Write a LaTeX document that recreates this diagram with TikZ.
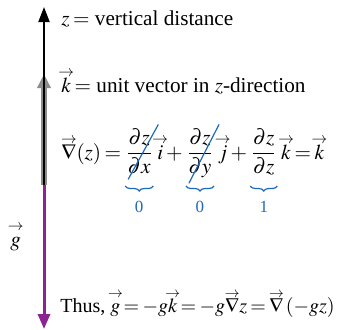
\documentclass[tikz,border=0pt]{standalone}
\usepackage{amsmath,amssymb}
\usepackage{mathptmx}
\usepackage{fontspec}
\setmainfont{Liberation Serif}
\usepackage{xcolor}
\usepackage{tikz}
\usetikzlibrary{positioning, arrows.meta, decorations.pathreplacing}

\definecolor{eqblue}{RGB}{30,105,185}
\definecolor{gvec}{RGB}{140,35,145}
\newcommand{\vv}[1]{\mathord{\setbox0=\hbox{$#1$}%
  \hbox to \wd0{\hss\raisebox{0.74em}{$\scriptstyle\rightarrow$}\hss}\kern-\wd0\box0}}
\newcommand{\eqspacing}{\thickmuskip=3mu plus 2mu\relax\medmuskip=2.5mu\relax}

\begin{document}
\begin{tikzpicture}[
    x=0.5pt, y=-0.5pt,
    label/.style={anchor=base west, inner sep=0pt,
      font=\fontsize{10.6}{13}\selectfont\eqspacing},
    axis/.style={-{Triangle[length=7.5pt, width=5.5pt]}, line width=1pt, black},
    unitvec/.style={-{Triangle[length=7pt, width=6.5pt]}, line width=3pt, black!45},
    gravity/.style={-{Triangle[length=7.5pt, width=6pt]}, line width=1.5pt, gvec},
    strike/.style={eqblue, line width=0.6pt},
    underbr/.style={eqblue, line width=0.6pt, decorate, decoration={brace, amplitude=2.5pt}},
    value/.style={eqblue, font=\fontsize{8.5}{10}\selectfont, below=1pt, yshift=-3pt}
]
\useasboundingbox (0,0) rectangle (341,329);

\coordinate (origin) at (44,185);
\coordinate (ztop) at (44,7);
\coordinate (ktop) at (44,74);
\coordinate (gtip) at (44,329);
\coordinate (brline) at (0,186);

\draw[unitvec] (origin) -- (ktop);
\draw[axis] (origin) -- (ztop);
\draw[gravity] (origin) -- (gtip);

\node[label] (zlab) at (61,25) {$z =$ vertical distance};
\node[label] (klab) at (61,92) {$\vv{k} =$ unit vector in $z$-direction};

\node[label] (grad) at (61,159) {$\vv{\nabla}(z) = {}$};
\node[label] (fx) at (grad.base east) {$\dfrac{\partial z}{\partial x}$};
\node[label] (iv) at (fx.base east) {$\;\vv{i} + {}$};
\node[label] (fy) at (iv.base east) {$\dfrac{\partial z}{\partial y}$};
\node[label] (jv) at (fy.base east) {$\;\vv{j} + {}$};
\node[label] (fz) at (jv.base east) {$\dfrac{\partial z}{\partial z}$};
\node[label] (kv) at (fz.base east) {$\;\vv{k} = \vv{k}$};

\draw[strike] ([shift={(3,5)}]fx.south west) -- ([shift={(5,-4)}]fx.north east);
\draw[strike] ([shift={(3,5)}]fy.south west) -- ([shift={(5,-4)}]fy.north east);

\draw[underbr] (fx.south east |- brline) -- (fx.south west |- brline) node[value, midway] (vx) {0};
\draw[underbr] (fy.south east |- brline) -- (fy.south west |- brline) node[value, midway] (vy) {0};
\draw[underbr] (fz.south east |- brline) -- (fz.south west |- brline) node[value, midway] (vz) {1};

\node[label] (glab) at (10,246) {$\vv{g}$};
\node[label, font=\fontsize{10}{12}\selectfont\eqspacing] (thus) at (60,312)
  {Thus, $\vv{g} = -g\vv{k} = -g\vv{\nabla} z = \vv{\nabla}\,(-gz)$};

\end{tikzpicture}
\end{document}
